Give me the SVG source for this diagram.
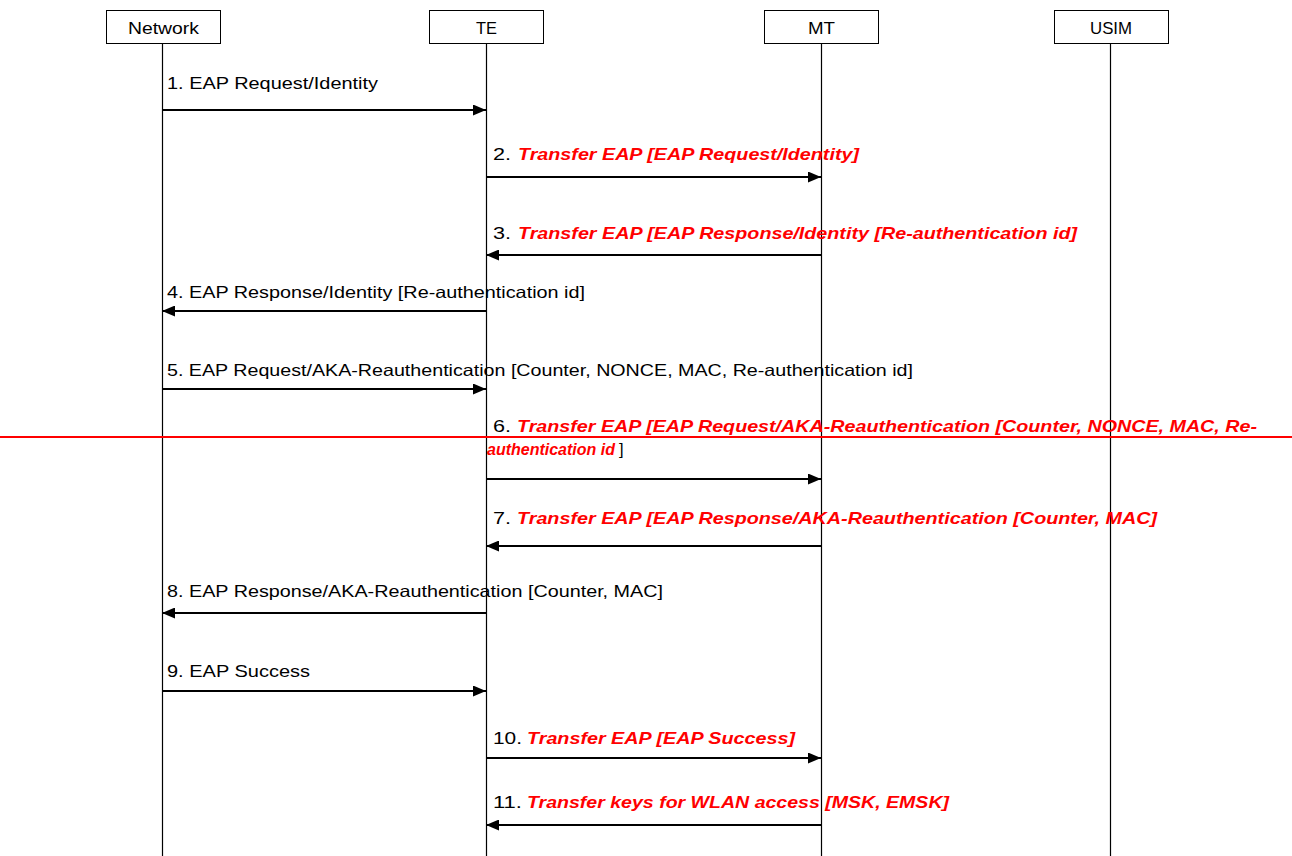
<svg xmlns="http://www.w3.org/2000/svg" width="1292" height="856" viewBox="0 0 1292 856">
<style>
.box{fill:#fff;stroke:#000;stroke-width:1}
.life{stroke:#000;stroke-width:1.2}
.msg{stroke:#000;stroke-width:2;fill:none}
text{font-family:"Liberation Sans",Arial,sans-serif;font-size:16.5px;fill:#000}
.r{fill:#ff0000;font-weight:bold;font-style:italic}
</style>
<defs>
<marker id="ah" markerWidth="13" markerHeight="11" refX="13" refY="5.5" orient="auto" markerUnits="userSpaceOnUse">
<path d="M0,0 L13,5.5 L0,11 Z" fill="#000"/>
</marker>
</defs>
<rect width="1292" height="856" fill="#fff"/>
<g id="network">
<rect class="box" x="106.5" y="10.5" width="114" height="33"/>
<text x="128" y="34" textLength="71" lengthAdjust="spacingAndGlyphs">Network</text>
<line class="life" x1="162.5" y1="43" x2="162.5" y2="856"/>
</g>
<g id="te">
<rect class="box" x="429.5" y="10.5" width="114" height="33"/>
<text x="476" y="34" textLength="21" lengthAdjust="spacingAndGlyphs">TE</text>
<line class="life" x1="486.5" y1="43" x2="486.5" y2="856"/>
</g>
<g id="mt">
<rect class="box" x="764.5" y="10.5" width="114" height="33"/>
<text x="808" y="34" textLength="27" lengthAdjust="spacingAndGlyphs">MT</text>
<line class="life" x1="821.5" y1="43" x2="821.5" y2="856"/>
</g>
<g id="usim">
<rect class="box" x="1054.5" y="10.5" width="114" height="33"/>
<text x="1090" y="34" textLength="42" lengthAdjust="spacingAndGlyphs">USIM</text>
<line class="life" x1="1110.5" y1="43" x2="1110.5" y2="856"/>
</g>
<g id="connectors">
<line class="msg" x1="162" y1="110" x2="486" y2="110" marker-end="url(#ah)"/>
<line class="msg" x1="486" y1="177" x2="821" y2="177" marker-end="url(#ah)"/>
<line class="msg" x1="821" y1="255" x2="486" y2="255" marker-end="url(#ah)"/>
<line class="msg" x1="486" y1="311" x2="162" y2="311" marker-end="url(#ah)"/>
<line class="msg" x1="162" y1="389" x2="486" y2="389" marker-end="url(#ah)"/>
<line class="msg" x1="486" y1="479" x2="821" y2="479" marker-end="url(#ah)"/>
<line class="msg" x1="821" y1="546" x2="486" y2="546" marker-end="url(#ah)"/>
<line class="msg" x1="486" y1="613" x2="162" y2="613" marker-end="url(#ah)"/>
<line class="msg" x1="162" y1="691" x2="486" y2="691" marker-end="url(#ah)"/>
<line class="msg" x1="486" y1="758" x2="821" y2="758" marker-end="url(#ah)"/>
<line class="msg" x1="821" y1="825" x2="486" y2="825" marker-end="url(#ah)"/>
</g>
<g id="labels">
<text x="167" y="89" textLength="211" lengthAdjust="spacingAndGlyphs">1. EAP Request/Identity</text>
<text x="493" y="160" textLength="18" lengthAdjust="spacingAndGlyphs">2.</text>
<text class="r" x="518" y="160" textLength="341" lengthAdjust="spacingAndGlyphs">Transfer EAP [EAP Request/Identity]</text>
<text x="493" y="239" textLength="18" lengthAdjust="spacingAndGlyphs">3.</text>
<text class="r" x="518" y="239" textLength="559" lengthAdjust="spacingAndGlyphs">Transfer EAP [EAP Response/Identity [Re-authentication id]</text>
<text x="167" y="298" textLength="418" lengthAdjust="spacingAndGlyphs">4. EAP Response/Identity [Re-authentication id]</text>
<text x="167" y="376" textLength="746" lengthAdjust="spacingAndGlyphs">5. EAP Request/AKA-Reauthentication [Counter, NONCE, MAC, Re-authentication id]</text>
<text x="493" y="432" textLength="18" lengthAdjust="spacingAndGlyphs">6.</text>
<text class="r" x="517" y="432" textLength="740" lengthAdjust="spacingAndGlyphs">Transfer EAP [EAP Request/AKA-Reauthentication [Counter, NONCE, MAC, Re-</text>
<text class="r" x="487" y="455" textLength="128" lengthAdjust="spacingAndGlyphs">authentication id</text>
<text x="619" y="455">]</text>
<text x="493" y="524" textLength="18" lengthAdjust="spacingAndGlyphs">7.</text>
<text class="r" x="517" y="524" textLength="640" lengthAdjust="spacingAndGlyphs">Transfer EAP [EAP Response/AKA-Reauthentication [Counter, MAC]</text>
<text x="167" y="597" textLength="496" lengthAdjust="spacingAndGlyphs">8. EAP Response/AKA-Reauthentication [Counter, MAC]</text>
<text x="167" y="677" textLength="143" lengthAdjust="spacingAndGlyphs">9. EAP Success</text>
<text x="493" y="744" textLength="29" lengthAdjust="spacingAndGlyphs">10.</text>
<text class="r" x="527" y="744" textLength="268" lengthAdjust="spacingAndGlyphs">Transfer EAP [EAP Success]</text>
<text x="493" y="808" textLength="29" lengthAdjust="spacingAndGlyphs">11.</text>
<text class="r" x="527" y="808" textLength="422" lengthAdjust="spacingAndGlyphs">Transfer keys for WLAN access [MSK, EMSK]</text>
</g>
<line x1="0" y1="437" x2="1292" y2="437" stroke="#ff0000" stroke-width="2"/>
</svg>
